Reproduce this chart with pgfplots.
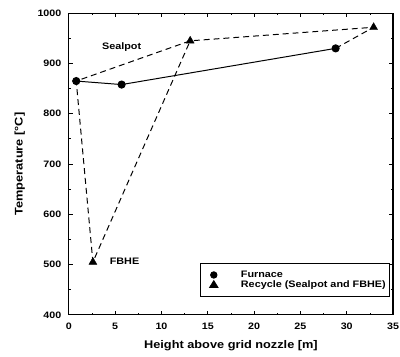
\documentclass[border=0pt]{standalone}
\usepackage{pgfplots}
\pgfplotsset{compat=1.18}
\usepackage{fontspec}
\setmainfont[FakeStretch=1.15]{Liberation Sans}
\begin{document}
\begin{tikzpicture}[x=1pt,y=1pt]
\useasboundingbox (-69.5,-42) rectangle (334.5,318);
\begin{axis}[
  at={(0,0)}, anchor=south west,
  scale only axis,
  width=327.5pt, height=304.7pt,
  xmin=0, xmax=35, ymin=400, ymax=1000,
  xtick={0,5,...,35}, ytick={400,500,...,1000},
  minor x tick num=1, minor y tick num=1,
  tick align=inside,
  tick pos=both,
  major tick length=4pt, minor tick length=2pt,
  axis line style={line width=1.2pt},
  every tick/.style={line width=0.8pt, black},
  /pgf/number format/assume math mode=true,
  /pgf/number format/1000 sep={},
  ticklabel style={font=\fontsize{9.4}{11}\selectfont\bfseries},
  yticklabel style={xshift=-4pt},
  xticklabel style={yshift=-5pt},
  xlabel={Height above grid nozzle [m]},
  ylabel={Temperature [°C]},
  label style={font=\fontsize{11.2}{13}\selectfont\bfseries},
  xlabel style={at={(axis description cs:0.5,-0.1016)}, anchor=center},
  ylabel style={at={(axis description cs:-0.151,0.5)}, anchor=center},
  legend style={at={(0.991,0.059)}, anchor=south east, font=\fontsize{9.5}{11}\selectfont\bfseries, draw=black, line width=0.8pt, row sep=-2.5pt, inner xsep=2pt, inner ysep=6pt},
  legend cell align=left,
  clip=false,
]
\addplot[black, line width=1pt, mark=*, mark size=3.6pt, forget plot] coordinates {(0.8,865) (5.7,858) (28.8,930)};
\addplot[black, line width=1pt, dash pattern=on 6pt off 4pt, forget plot] coordinates {(28.8,930) (32.9,972) (13.1,945) (0.8,865) (2.6,505) (13.1,945)};
\addplot[black, only marks, mark=triangle*, mark size=4.6pt, forget plot] coordinates {(13.1,945) (32.9,972) (2.6,505)};
\addlegendimage{legend image code/.code={\path (0pt,0pt) (36pt,0pt); \fill[black] (11pt,0pt) circle (3.3pt);}}
\addlegendentry{Furnace}
\addlegendimage{legend image code/.code={\path (0pt,0pt) (36pt,0pt); \fill[black] (11pt,4pt) -- (15.3pt,-3pt) -- (6.7pt,-3pt) -- cycle;}}
\addlegendentry{Recycle (Sealpot and FBHE)}
\node[font=\fontsize{9.5}{11}\selectfont\bfseries] at (axis cs:5.7,932) {Sealpot};
\node[font=\fontsize{9.5}{11}\selectfont\bfseries, anchor=west, inner sep=0pt] at (axis cs:4.4,507) {FBHE};
\end{axis}
\end{tikzpicture}
\end{document}
